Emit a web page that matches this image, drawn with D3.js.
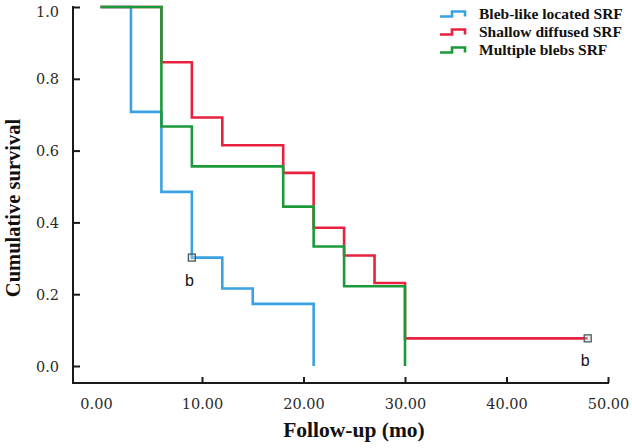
<!DOCTYPE html>
<html><head><meta charset="utf-8">
<script src="https://cdn.jsdelivr.net/npm/d3@7"></script>
<style>html,body{margin:0;padding:0;background:#fff;}svg{display:block;}</style>
</head><body><svg id="c" width="632" height="448"></svg>
<script>
// Data (months, cumulative survival)
const seriesNames = ["Bleb-like located SRF", "Shallow diffused SRF", "Multiple blebs SRF"];
const blebTimes = [0, 3, 6, 9, 12, 15, 21];
const blebSurv  = [1.0, 0.708, 0.485, 0.302, 0.216, 0.173, 0.0];
const shallowTimes = [0, 6, 9, 12, 18, 21, 24, 27, 30];
const shallowSurv  = [1.0, 0.846, 0.692, 0.615, 0.538, 0.385, 0.308, 0.231, 0.077];
const multiTimes = [0, 6, 9, 18, 21, 24, 30];
const multiSurv  = [1.0, 0.667, 0.556, 0.444, 0.333, 0.222, 0.0];
const seriesEnd = [21, 48, 30];
const censored = [{s: 0, t: 9, v: 0.302}, {s: 1, t: 48, v: 0.077}];
const xTicks = [0, 10, 20, 30, 40, 50];
const yTicks = [0, 0.2, 0.4, 0.6, 0.8, 1.0];

const colors = ["#3ba2e2", "#e8213f", "#1c9a3a"];
const svg = d3.select("#c");
const x = d3.scaleLinear().domain([0, 50]).range([100.5, 608]);
const y = d3.scaleLinear().domain([0, 1]).range([366, 7]);
const axisColor = "#1a1a1a";

// axis lines
svg.append("line").attr("x1", 73).attr("x2", 73).attr("y1", 6).attr("y2", 383.5)
  .attr("stroke", axisColor).attr("stroke-width", 2);
svg.append("line").attr("x1", 72).attr("x2", x(50) + 1).attr("y1", 383).attr("y2", 383)
  .attr("stroke", axisColor).attr("stroke-width", 2);

// y axis ticks (inward) and labels
const ya = svg.append("g").attr("transform", "translate(73,0)")
  .call(d3.axisRight(y).tickValues(yTicks).tickSize(7).tickFormat(d3.format(".1f")));
ya.select(".domain").remove();
ya.selectAll(".tick line").attr("stroke", axisColor).attr("stroke-width", 2);
ya.selectAll(".tick text").attr("x", -14).attr("text-anchor", "end")
  .attr("font-family", "DejaVu Serif").attr("font-size", 14.5).attr("fill", "#2a2a2a")
  .attr("dy", d => d === 1 ? "0.68em" : "0.35em");

// x axis ticks (inward) and labels
const xa = svg.append("g").attr("transform", "translate(0,383)")
  .call(d3.axisTop(x).tickValues(xTicks).tickSize(6).tickFormat(d3.format(".2f")));
xa.select(".domain").remove();
xa.selectAll(".tick line").attr("stroke", axisColor).attr("stroke-width", 2)
  .attr("opacity", d => d === 0 ? 0 : 1);
xa.selectAll(".tick text").attr("y", 26).attr("dy", 0)
  .attr("dx", d => d === 0 ? -4.5 : 0)
  .attr("font-family", "DejaVu Serif").attr("font-size", 14.5).attr("fill", "#2a2a2a");

// step lines
const allSeries = [
  {t: blebTimes, v: blebSurv},
  {t: shallowTimes, v: shallowSurv},
  {t: multiTimes, v: multiSurv}
];
const line = d3.line().x(d => x(d[0])).y(d => y(d[1])).curve(d3.curveStepAfter);
allSeries.forEach((s, i) => {
  const pts = s.t.map((t, k) => [t, s.v[k]]);
  const last = pts[pts.length - 1];
  if (seriesEnd[i] > last[0]) pts.push([seriesEnd[i], last[1]]);
  svg.append("path").datum(pts).attr("d", line).attr("fill", "none")
    .attr("stroke", colors[i]).attr("stroke-width", 2.6).attr("stroke-linejoin", "miter");
});

// censor marks
censored.forEach(c => {
  svg.append("rect").attr("x", x(c.t) - 3.5).attr("y", y(c.v) - 3.5)
    .attr("width", 7).attr("height", 7).attr("fill", "#c8d8e0").attr("fill-opacity", 0.4)
    .attr("stroke", "#4a5a5a").attr("stroke-width", 1.3);
  svg.append("text").attr("x", x(c.t) - 2.5).attr("y", y(c.v) + 28)
    .attr("text-anchor", "middle").attr("font-family", "Liberation Sans")
    .attr("font-size", 16).attr("fill", "#111").text("b");
});

// axis titles
svg.append("text").attr("x", 354).attr("y", 437).attr("text-anchor", "middle")
  .attr("font-family", "Liberation Serif").attr("font-weight", "bold").attr("font-size", 21.5)
  .attr("fill", "#111").text("Follow-up (mo)");
svg.append("text").attr("transform", "translate(20,208) rotate(-90)").attr("text-anchor", "middle")
  .attr("font-family", "Liberation Serif").attr("font-weight", "bold").attr("font-size", 20.5)
  .attr("fill", "#111").text("Cumulative survival");

// legend
const lg = svg.append("g").attr("transform", "translate(440,0)");
seriesNames.forEach((n, i) => {
  const cy = 14 + i * 18;
  lg.append("path").attr("d", `M0,${cy + 2.5} H12 V${cy - 2.5} H25 V${cy + 2.5}`)
    .attr("fill", "none").attr("stroke", colors[i]).attr("stroke-width", 2.6);
  lg.append("text").attr("x", 39).attr("y", cy + 5)
    .attr("font-family", "Liberation Serif").attr("font-weight", "bold").attr("font-size", 15.5)
    .attr("fill", "#111").text(n);
});
</script></body></html>
